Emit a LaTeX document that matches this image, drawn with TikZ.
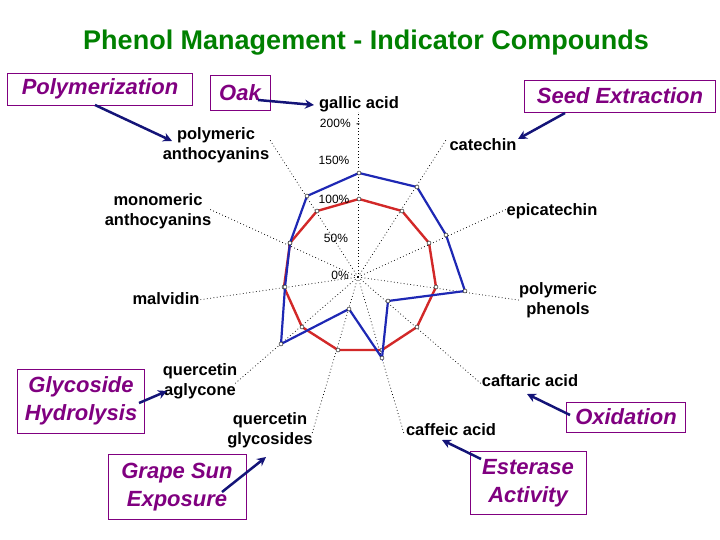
\documentclass[tikz,border=0pt]{standalone}
\usepackage{fontspec}
\setmainfont{Liberation Sans}
\usetikzlibrary{arrows.meta}
\definecolor{ttl}{RGB}{0,128,0}
\definecolor{pur}{RGB}{128,0,128}
\definecolor{nav}{RGB}{20,20,120}
\definecolor{rd}{RGB}{210,40,40}
\definecolor{bl}{RGB}{30,40,180}
\begin{document}
\begin{tikzpicture}[x=1pt,y=-1pt,
 box/.style={draw=pur,text=pur,font=\fontsize{22}{28}\selectfont\bfseries\itshape,align=center,inner sep=2pt},
 lab/.style={font=\fontsize{16.5}{20}\selectfont\bfseries,align=center,inner sep=1pt},
 pct/.style={font=\fontsize{12}{14}\selectfont},
 arr/.style={draw=nav,line width=2.5pt,-{Stealth[length=9pt,width=9pt]}},
 dot/.style={circle,draw=black,fill=white,inner sep=0pt,minimum size=4pt}]
\useasboundingbox (0,0) rectangle (720,540);
\node[text=ttl,font=\fontsize{27}{30}\selectfont\bfseries] (title) at (366,43) {Phenol Management - Indicator Compounds};
\coordinate (c) at (358,277);
\foreach \k in {0,...,10}{
  \draw[black,line width=0.7pt,dash pattern=on 0.8pt off 2.5pt] (c) -- ++({-90+\k*360/11}:165);
}
% red polygon
\draw[rd,line width=2.4pt] (359,199)--(402,211)--(429,243)--(436,287)--(417,327)--(382,350)--(338,350)--(302,327)--(284,287)--(290,243)--(317,211)--cycle;
\foreach \p in {(359,199),(402,211),(429,243),(436,287),(417,327),(382,350),(338,350),(302,327),(284,287),(290,243),(317,211)} \node[dot] at \p {};
% blue polygon
\draw[bl,line width=2.2pt] (359,173)--(417,187)--(446,235)--(465,291)--(388,301)--(382,358)--(349,309)--(281,344)--(285,287)--(290,243)--(307,196)--cycle;
\foreach \p in {(359,173),(417,187),(446,235),(465,291),(388,301),(382,358),(349,309),(281,344),(285,287),(290,243),(307,196)} \node[dot] at \p {};
\node[pct] (p200) at (340,123) {200\% \,-};
\node[pct] (p150) at (334,160) {150\%};
\node[pct] (p100) at (334,199) {100\%};
\node[pct] (p50) at (336,238) {50\%};
\node[pct] (p0) at (340,275) {0\%};
% labels
\node[lab] (ga) at (359,104) {gallic acid};
\node[lab] (cat) at (483,145) {catechin};
\node[lab] (epi) at (552,211) {epicatechin};
\node[lab] (pp) at (558,300) {polymeric\\phenols};
\node[lab] (caft) at (530,381) {caftaric acid};
\node[lab] (caff) at (451,430) {caffeic acid};
\node[lab] (qg) at (270,430) {quercetin\\glycosides};
\node[lab] (qa) at (200,381) {quercetin\\aglycone};
\node[lab] (mal) at (166,299) {malvidin};
\node[lab] (ma) at (158,211) {monomeric\\anthocyanins};
\node[lab] (pa) at (216,145) {polymeric\\anthocyanins};
% boxes
\node[box,minimum width=185pt,minimum height=32pt] (poly) at (100,89) {Polymerization};
\node[box,minimum width=60pt,minimum height=35pt] (oak) at (240,93) {Oak};
\node[box,minimum width=191pt,minimum height=32pt] (seed) at (620,96) {Seed Extraction};
\node[box,minimum width=127pt,minimum height=64pt] (gly) at (81,401) {Glycoside\\Hydrolysis};
\node[box,minimum width=119pt,minimum height=30pt] (oxi) at (626,417) {Oxidation};
\node[box,minimum width=138pt,minimum height=65pt] (gse) at (177,487) {Grape Sun\\Exposure};
\node[box,minimum width=116pt,minimum height=63pt] (est) at (528,483) {Esterase\\Activity};
% arrows
\coordinate (a1) at (95,105); \coordinate (b1) at (172,141);
\coordinate (a2) at (258,100); \coordinate (b2) at (314,105);
\coordinate (a3) at (565,113); \coordinate (b3) at (518,139);
\coordinate (a4) at (139,403); \coordinate (b4) at (167,391);
\coordinate (a5) at (222,492); \coordinate (b5) at (266,457);
\coordinate (a6) at (481,459); \coordinate (b6) at (442,440);
\coordinate (a7) at (570,415); \coordinate (b7) at (527,394);
\foreach \i in {1,...,7} \draw[arr] (a\i) -- (b\i);
\end{tikzpicture}
\end{document}
